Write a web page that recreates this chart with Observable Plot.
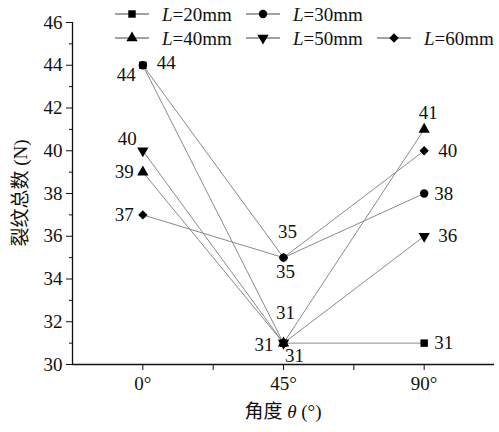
<!DOCTYPE html>
<html><head><meta charset="utf-8">
<script src="https://cdn.jsdelivr.net/npm/d3@7"></script>
<script src="https://cdn.jsdelivr.net/npm/@observablehq/plot@0.6"></script>
<style>
body{margin:0;background:#fff;}
#wrap{position:relative;width:499px;height:432px;font-family:"Liberation Serif","Times New Roman",Tinos,"DejaVu Serif","Noto Sans CJK SC",serif;color:#111;}
#wrap svg{position:absolute;left:0;top:0;}
#wrap svg text{font-family:"Liberation Serif","Times New Roman",Tinos,"DejaVu Serif","Noto Sans CJK SC",serif;}
.xt{position:absolute;left:0;width:566px;top:396px;text-align:center;font-size:19px;white-space:nowrap;}
.yt{position:absolute;left:18px;top:193px;font-size:19px;white-space:nowrap;transform:translate(-50%,-50%) rotate(-90deg);}
</style></head><body><div id="wrap"></div>
<script>
// ---- data ----
const angles = [0, 45, 90];
const seriesNames = ["L=20mm", "L=30mm", "L=40mm", "L=50mm", "L=60mm"];
const counts20 = [44, 31, 31];
const counts30 = [44, 35, 38];
const counts40 = [39, 31, 41];
const counts50 = [40, 31, 36];
const counts60 = [37, 35, 40];
const yMajorTicks = [30, 32, 34, 36, 38, 40, 42, 44, 46];
const yMinorTicks = [31, 33, 35, 37, 39, 41, 43, 45];
const xMajorTicks = [0, 45, 90];
const xMinorTicks = [22.5, 67.5];
const xTitle = "角度 <i>θ</i> (°)";
const yTitle = "裂纹总数 (N)";

const allCounts = [counts20, counts30, counts40, counts50, counts60];
const rows = [];
seriesNames.forEach((s, i) => angles.forEach((a, j) => rows.push({series: s, angle: a, count: allCounts[i][j]})));

// label placement (styling only)
const labelPlacement = [
  {series: "L=20mm", angle: 0, dx: -7, dy: 10, anchor: "end"},
  {series: "L=30mm", angle: 0, dx: 14, dy: -2, anchor: "start"},
  {series: "L=40mm", angle: 0, dx: -9, dy: 0, anchor: "end"},
  {series: "L=50mm", angle: 0, dx: -6, dy: -12, anchor: "end"},
  {series: "L=60mm", angle: 0, dx: -9, dy: 0, anchor: "end"},
  {series: "L=30mm", angle: 45, dx: 4, dy: -26, anchor: "middle"},
  {series: "L=60mm", angle: 45, dx: 2, dy: 14, anchor: "middle"},
  {series: "L=40mm", angle: 45, dx: 2, dy: -30, anchor: "middle"},
  {series: "L=50mm", angle: 45, dx: -10, dy: 2, anchor: "end"},
  {series: "L=20mm", angle: 45, dx: 11, dy: 13, anchor: "middle"},
  {series: "L=20mm", angle: 90, dx: 10, dy: 0, anchor: "start"},
  {series: "L=30mm", angle: 90, dx: 10, dy: 0, anchor: "start"},
  {series: "L=40mm", angle: 90, dx: 4, dy: -16, anchor: "middle"},
  {series: "L=50mm", angle: 90, dx: 14, dy: 0, anchor: "start"},
  {series: "L=60mm", angle: 90, dx: 14, dy: 0, anchor: "start"}
];

const triangleDown = {
  draw(ctx, size) {
    const y = -Math.sqrt(size / (Math.sqrt(3) * 3));
    ctx.moveTo(0, -2 * y);
    ctx.lineTo(-Math.sqrt(3) * y, y);
    ctx.lineTo(Math.sqrt(3) * y, y);
    ctx.closePath();
  }
};
const symbolRange = [d3.symbolSquare, d3.symbolCircle, d3.symbolTriangle, triangleDown, d3.symbolDiamond2];

const labelMarks = labelPlacement.map(p => Plot.text(
  rows.filter(r => r.series === p.series && r.angle === p.angle),
  {x: "angle", y: "count", text: d => String(d.count), dx: p.dx, dy: p.dy, textAnchor: p.anchor, fill: "#111", fontSize: 19}
));

const chart = Plot.plot({
  width: 499, height: 432,
  marginLeft: 72, marginRight: 5, marginTop: 22, marginBottom: 68,
  style: {fontSize: "19px", background: "white", color: "#111"},
  x: {domain: [-22.5, 112.5]},
  y: {domain: [30, 46]},
  symbol: {domain: seriesNames, range: symbolRange},
  marks: [
    Plot.axisY({ticks: yMajorTicks, tickSize: 6, tickPadding: 4, fontSize: 19, label: null, stroke: "#111"}),
    Plot.axisY({ticks: yMinorTicks, tickSize: 3, text: null, label: null, stroke: "#111"}),
    Plot.axisX({ticks: xMajorTicks, tickSize: 6, tickPadding: 6, fontSize: 19, label: null, tickFormat: d => d + "°", stroke: "#111"}),
    Plot.axisX({ticks: xMinorTicks, tickSize: 6, text: null, label: null, stroke: "#111"}),
    Plot.ruleX([-22.5], {stroke: "#111", strokeWidth: 1.3}),
    Plot.ruleY([30], {stroke: "#111", strokeWidth: 1.3}),
    Plot.line(rows, {x: "angle", y: "count", z: "series", stroke: "#8a8a8a", strokeWidth: 1}),
    Plot.dot(rows, {x: "angle", y: "count", symbol: "series", r: 4.2, fill: "#000", stroke: "none"}),
    ...labelMarks
  ]
});

const wrap = document.getElementById("wrap");
wrap.appendChild(chart);

// axis titles
const xt = document.createElement("div"); xt.className = "xt"; xt.innerHTML = xTitle; wrap.appendChild(xt);
const yt = document.createElement("div"); yt.className = "yt"; yt.textContent = yTitle; wrap.appendChild(yt);

// legend overlay
const legendSvg = d3.select(wrap).append("svg").attr("width", 499).attr("height", 50)
  .style("font-size", "19px");
const legendLayout = [
  {x: 115, y: 14}, {x: 246, y: 14},
  {x: 115, y: 38}, {x: 246, y: 38}, {x: 377, y: 38}
];
seriesNames.forEach((s, i) => {
  const p = legendLayout[i];
  const g = legendSvg.append("g").attr("transform", `translate(${p.x},${p.y})`);
  g.append("line").attr("x1", 0).attr("x2", 34).attr("y1", 0).attr("y2", 0).attr("stroke", "#444").attr("stroke-width", 1.2);
  g.append("path").attr("transform", "translate(17,0)").attr("d", d3.symbol(symbolRange[i], Math.PI * 4.2 * 4.2)()).attr("fill", "#000");
  const t = g.append("text").attr("x", 47).attr("y", 0).attr("dy", "0.35em").attr("fill", "#111");
  t.append("tspan").attr("font-style", "italic").text(s.slice(0, 1));
  t.append("tspan").text(s.slice(1));
});
</script></body></html>
